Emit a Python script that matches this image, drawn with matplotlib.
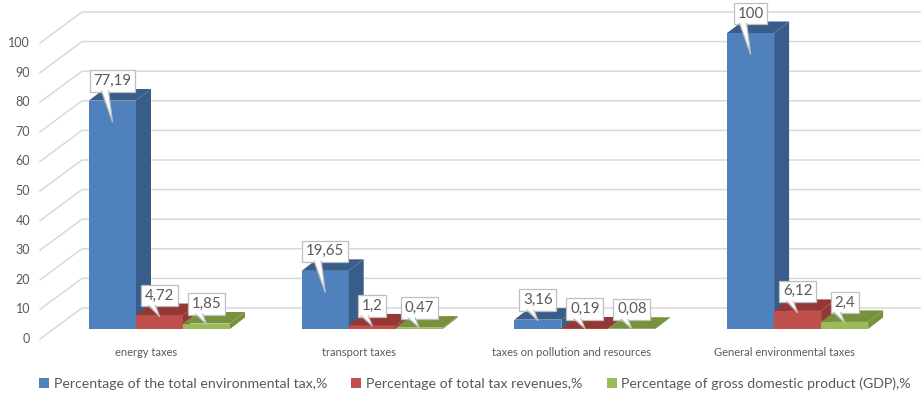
import matplotlib.pyplot as plt
from matplotlib.patches import Polygon, Patch

categories = ["energy taxes", "transport taxes",
              "taxes on pollution and resources", "General environmental taxes"]
series = ["Percentage of the total environmental tax,%",
          "Percentage of total tax revenues,%",
          "Percentage of gross domestic product (GDP),%"]
env_share = [77.19, 19.65, 3.16, 100]
revenue_share = [4.72, 1.2, 0.19, 6.12]
gdp_share = [1.85, 0.47, 0.08, 2.4]
value_labels = [["77,19", "19,65", "3,16", "100"],
                ["4,72", "1,2", "0,19", "6,12"],
                ["1,85", "0,47", "0,08", "2,4"]]
yticks = list(range(0, 101, 10))

front_col = ["#4F81BD", "#C0504D", "#9BBB59"]
dark_col = ["#385D8A", "#943836", "#76923C"]
txt_col = "#595959"
grid_col = "#D9D9D9"

plt.rcParams['font.family'] = ['Lato', 'DejaVu Sans']

# pixel scale of the original picture -> data units
PX_X = 1 / 212.7     # category units per pixel
PX_Y = 1 / 2.96      # value units per pixel

fig = plt.figure(figsize=(9.21, 3.94), dpi=100)
ax = fig.add_axes([0, 0, 1, 1])
ax.set_xlim(-159.5 * PX_X, (921 - 159.5) * PX_X)
ax.set_ylim(-65 * PX_Y, 329 * PX_Y)
ax.axis('off')

# walls / gridlines
fx, fy = -119.5 * PX_X, -10 * PX_Y      # front edge (label side)
bx, by = -77.5 * PX_X, 21 * PX_Y        # back wall
rx = (920 - 159.5) * PX_X
for v in yticks:
    ax.plot([fx, bx, rx], [v + fy, v + by, v + by], color=grid_col, lw=1.1, zorder=1)
    ax.text(fx - 10 * PX_X, v + fy, str(v), ha='right', va='center',
            fontsize=9, color=txt_col)

for i, c in enumerate(categories):
    ax.text(i - 13 * PX_X, -24 * PX_Y, c, ha='center', va='center',
            fontsize=8, color=txt_col)

# bars
w = 47 * PX_X
ddx, ddy = 15 * PX_X, 11.5 * PX_Y
data = [env_share, revenue_share, gdp_share]
z = 2
for i in range(len(categories)):
    for s in range(3):
        v = data[s][i]
        x0 = i - 1.5 * w + s * w
        x1 = x0 + w
        ax.add_patch(Polygon([(x0, 0), (x1, 0), (x1, v), (x0, v)],
                             closed=True, fc=front_col[s], ec='none', zorder=z))
        ax.add_patch(Polygon([(x1, 0), (x1 + ddx, ddy), (x1 + ddx, v + ddy), (x1, v)],
                             closed=True, fc=dark_col[s], ec='none', zorder=z))
        ax.add_patch(Polygon([(x0, v), (x1, v), (x1 + ddx, v + ddy), (x0 + ddx, v + ddy)],
                             closed=True, fc=dark_col[s], ec='none', zorder=z))
        z += 1

# callout labels
for i in range(len(categories)):
    for s in range(3):
        v = data[s][i]
        xc = i - 1.5 * w + s * w + w / 2
        box_bottom = v + 9.5 * PX_Y
        ax.text(xc, box_bottom + 10 * PX_Y, value_labels[s][i], ha='center',
                va='center', fontsize=10.8, color=txt_col, zorder=50,
                bbox=dict(boxstyle='square,pad=0.25', fc='white',
                          ec='#BFBFBF', lw=0.9))
        tip = v - 7.2 if v > 10 else v * 0.9
        b0, b1 = xc - 11 * PX_X, xc - 4 * PX_X
        tail = Polygon([(b0, box_bottom + 1.2 * PX_Y), (b1, box_bottom + 1.2 * PX_Y),
                        (xc, tip)], closed=True, fc='white', ec='none', zorder=60)
        ax.add_patch(tail)
        ax.plot([b0, xc, b1], [box_bottom, tip, box_bottom], color='#BFBFBF',
                lw=0.9, zorder=61)

handles = [Patch(fc=front_col[s], ec='none') for s in range(3)]
leg = fig.legend(handles, series, loc='center', bbox_to_anchor=(475 / 921, 10 / 394),
                 ncol=3, frameon=False, fontsize=10.2, handlelength=0.7,
                 handleheight=0.7, handletextpad=0.35, columnspacing=1.7)
for t in leg.get_texts():
    t.set_color(txt_col)

fig.savefig("out.png", dpi=100)
